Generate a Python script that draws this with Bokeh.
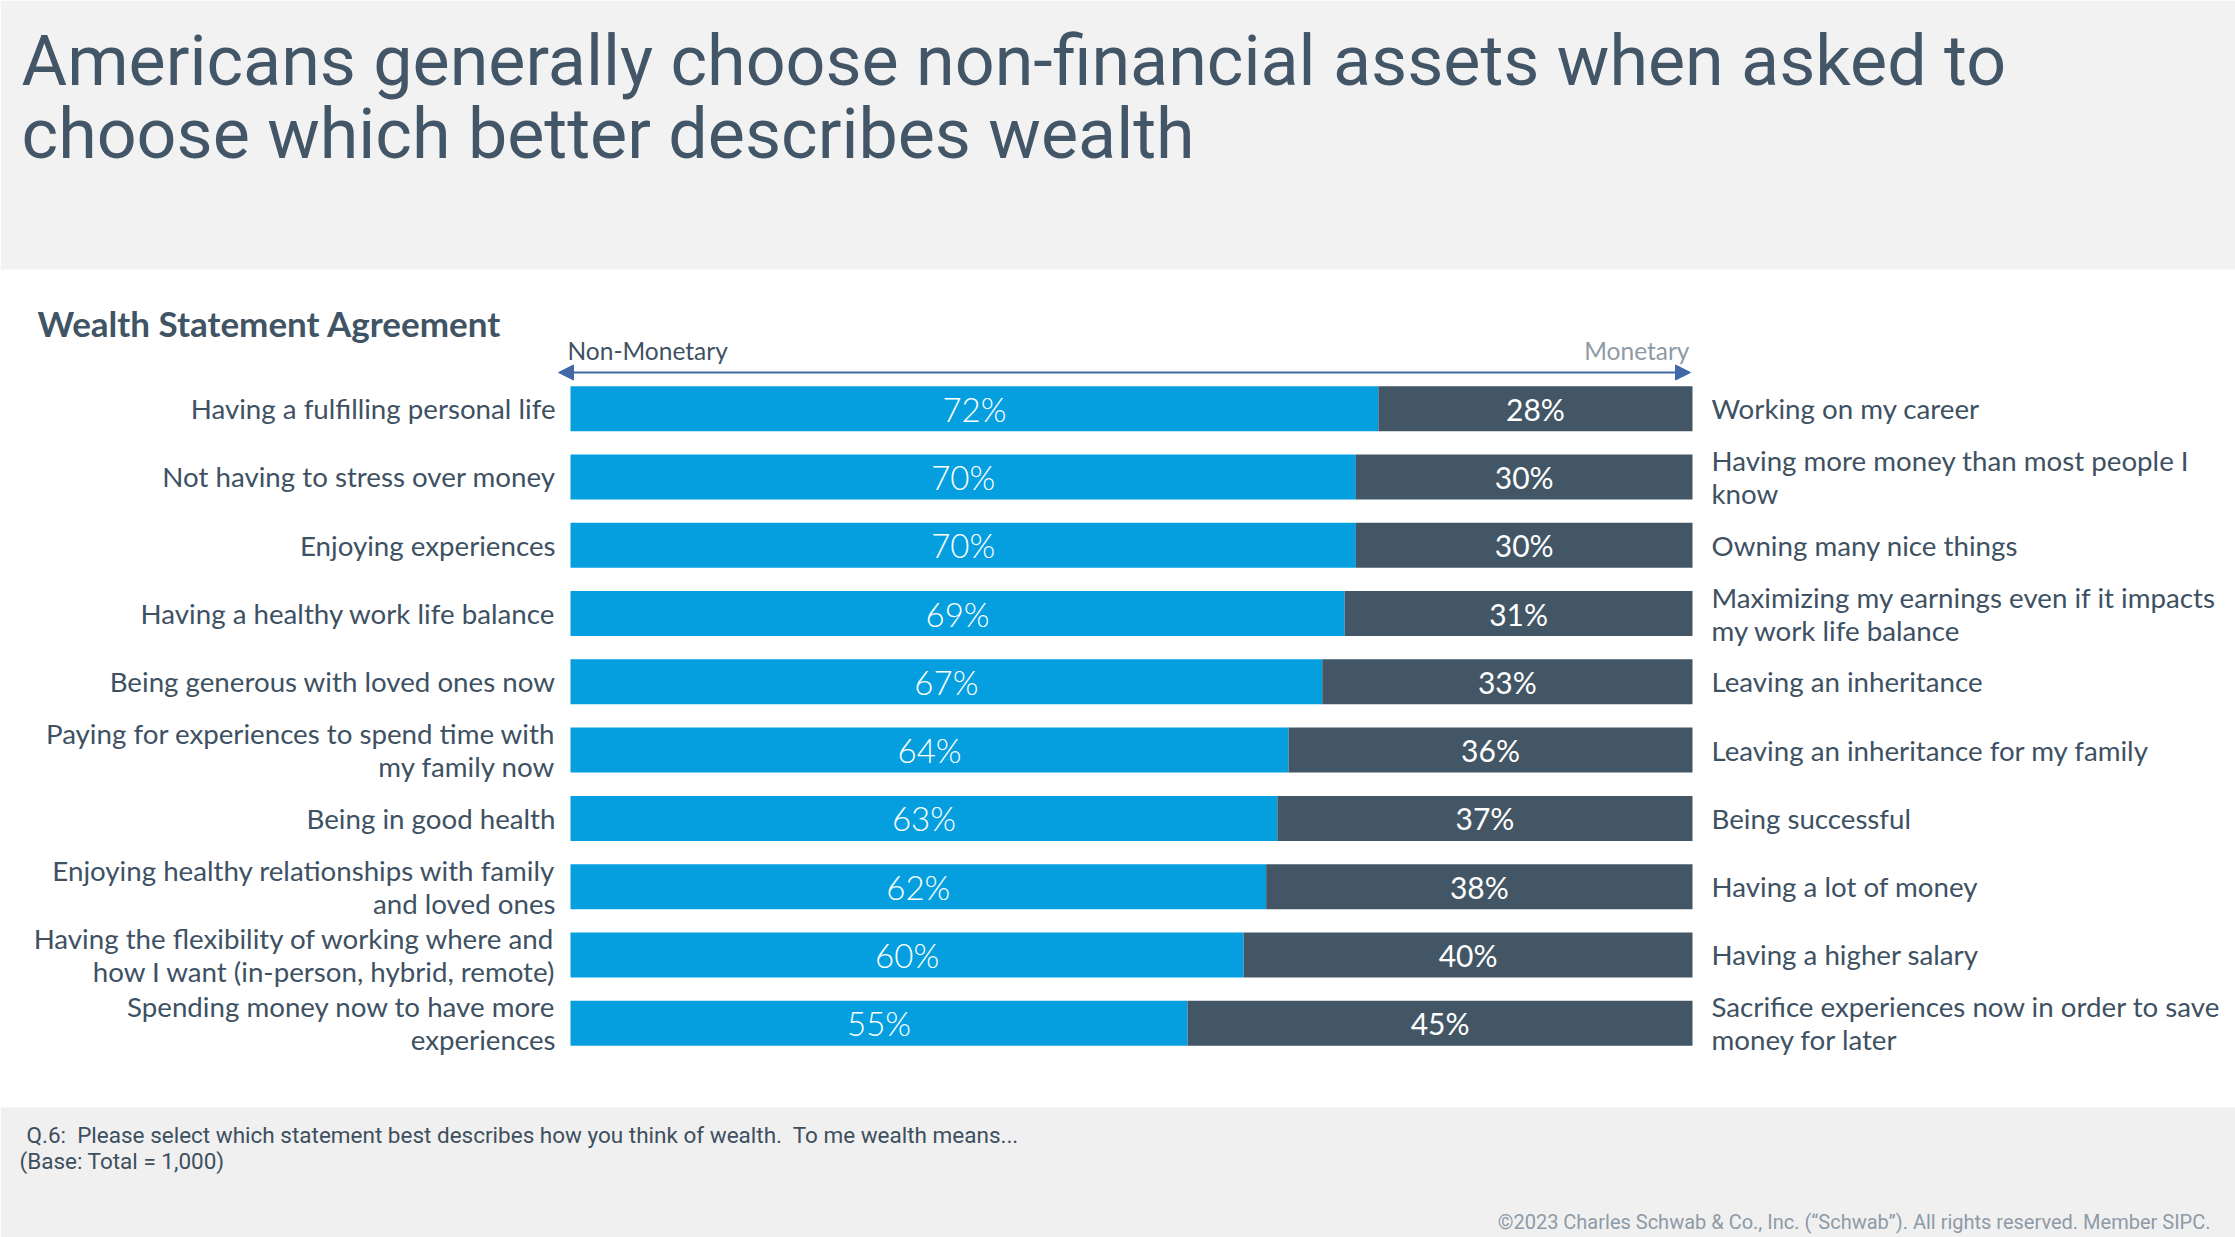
from bokeh.plotting import figure
from bokeh.models import Range1d, Arrow, NormalHead, ColumnDataSource
from bokeh.core.properties import value
from bokeh.embed import file_html
from bokeh.resources import INLINE

# ---- data -----------------------------------------------------------------
left_labels = [
    "Having a fulfilling personal life",
    "Not having to stress over money",
    "Enjoying experiences",
    "Having a healthy work life balance",
    "Being generous with loved ones now",
    "Paying for experiences to spend time with\nmy family now",
    "Being in good health",
    "Enjoying healthy relationships with family\nand loved ones",
    "Having the flexibility of working where and\nhow I want (in-person, hybrid, remote)",
    "Spending money now to have more\nexperiences",
]
right_labels = [
    "Working on my career",
    "Having more money than most people I\nknow",
    "Owning many nice things",
    "Maximizing my earnings even if it impacts\nmy work life balance",
    "Leaving an inheritance",
    "Leaving an inheritance for my family",
    "Being successful",
    "Having a lot of money",
    "Having a higher salary",
    "Sacrifice experiences now in order to save\nmoney for later",
]
non_monetary = [72, 70, 70, 69, 67, 64, 63, 62, 60, 55]
monetary = [28, 30, 30, 31, 33, 36, 37, 38, 40, 45]
scale_ends = ["Non-Monetary", "Monetary"]

title_lines = [
    "Americans generally choose non-financial assets when asked to",
    "choose which better describes wealth",
]
chart_title = "Wealth Statement Agreement"
note_lines = [
    "Q.6:\u00a0 Please select which statement best describes how you think of wealth.\u00a0 To me wealth means...",
    "(Base: Total = 1,000)",
]
copyright_text = "\u00a92023 Charles Schwab & Co., Inc. (\u201cSchwab\u201d). All rights reserved. Member SIPC."

# ---- page geometry (pixels) --------------------------------------------------
W, H = 2235, 1237
BAR_LEFT, BAR_RIGHT = 570, 1692
ROW0, ROW_STEP, BAR_PX = 408.2, 68.28, 45

BLUE = "#059FDF"
SLATE = "#435666"
INK = "#3E5163"
GREY_TEXT = "#8E9AA6"
BAND = "#F2F2F2"

p = figure(width=W, height=H, x_range=Range1d(0, W), y_range=Range1d(H, 0),
           output_backend="svg", toolbar_location=None, min_border=0,
           x_axis_type=None, y_axis_type=None,
           background_fill_color="white", border_fill_color="white",
           outline_line_color=None)

# percent scale for the bars and a row scale for the statements
px_per_pct = (BAR_RIGHT - BAR_LEFT) / 100
p.extra_x_ranges = {"pct": Range1d(-BAR_LEFT / px_per_pct, (W - BAR_LEFT) / px_per_pct)}
p.extra_y_ranges = {"row": Range1d((H - ROW0) / ROW_STEP, -ROW0 / ROW_STEP)}


def page_text(x, baseline, txt, size, font="Roboto", color=INK, align="left", style="normal"):
    # place a single line so that its baseline sits at `baseline`
    p.text(x=[x], y=[baseline - 0.4 * size], text=[txt], text_font=value(font),
           text_font_size=f"{size}px", text_color=color, text_align=align,
           text_font_style=style, text_baseline="alphabetic")


# background bands
p.quad(left=0, right=W, top=0, bottom=269, color=BAND, line_color=None)
p.quad(left=0, right=W, top=1107, bottom=H, color="#F0F0F0", line_color=None)

# headline
for i, line in enumerate(title_lines):
    page_text(21, 88 + i * 73, line, 70, color="#435668")

page_text(37, 336, chart_title, 35, font="Lato", color="#3F5465", style="bold")

# direction arrow above the bars
p.add_layout(Arrow(x_start=558, y_start=372, x_end=1690, y_end=372,
                   line_color="#4169A8", line_width=2,
                   start=NormalHead(size=15, fill_color="#4169A8", line_color="#4169A8"),
                   end=NormalHead(size=15, fill_color="#4169A8", line_color="#4169A8")))
page_text(567, 360, scale_ends[0], 24.5, font="Lato", color=INK)
page_text(1689, 360, scale_ends[1], 24.5, font="Lato", color=GREY_TEXT, align="right")

# stacked bars
rows = list(range(len(non_monetary)))
src = ColumnDataSource(dict(
    row=rows,
    non=non_monetary,
    total=[a + b for a, b in zip(non_monetary, monetary)],
    non_mid=[a / 2 for a in non_monetary],
    mon_mid=[a + b / 2 for a, b in zip(non_monetary, monetary)],
    non_lbl=[f"{a}%" for a in non_monetary],
    mon_lbl=[f"{b}%" for b in monetary],
    left=left_labels,
    right=right_labels,
))
bar_h = BAR_PX / ROW_STEP
p.hbar(y="row", left=0, right="non", height=bar_h, source=src,
       x_range_name="pct", y_range_name="row", color=BLUE, line_color=None)
p.hbar(y="row", left="non", right="total", height=bar_h, source=src,
       x_range_name="pct", y_range_name="row", color=SLATE, line_color=None)

p.text(x="non_mid", y="row", text="non_lbl", source=src, x_range_name="pct",
       y_range_name="row", text_align="center", text_baseline="middle",
       text_font=value("Lato Light"), text_font_size="33px", text_color="white")
p.text(x="mon_mid", y="row", text="mon_lbl", source=src, x_range_name="pct",
       y_range_name="row", text_align="center", text_baseline="middle",
       text_font=value("Lato"), text_font_size="30px", text_color="white")

# statements on both sides
p.text(x=555, y="row", text="left", source=src, y_range_name="row",
       text_align="right", text_baseline="middle", text_font=value("Lato"),
       text_font_size="27.7px", text_color=INK, text_line_height=1.0)
p.text(x=1711, y="row", text="right", source=src, y_range_name="row",
       text_align="left", text_baseline="middle", text_font=value("Lato"),
       text_font_size="27.7px", text_color=INK, text_line_height=1.0)

# footnotes
page_text(26, 1143, note_lines[0], 22.5, color="#3D4F5E")
page_text(19, 1169, note_lines[1], 22.5, color="#3D4F5E")
page_text(2210, 1229, copyright_text, 20, color=GREY_TEXT, align="right")

open("out.html", "w").write(file_html(p, INLINE))
